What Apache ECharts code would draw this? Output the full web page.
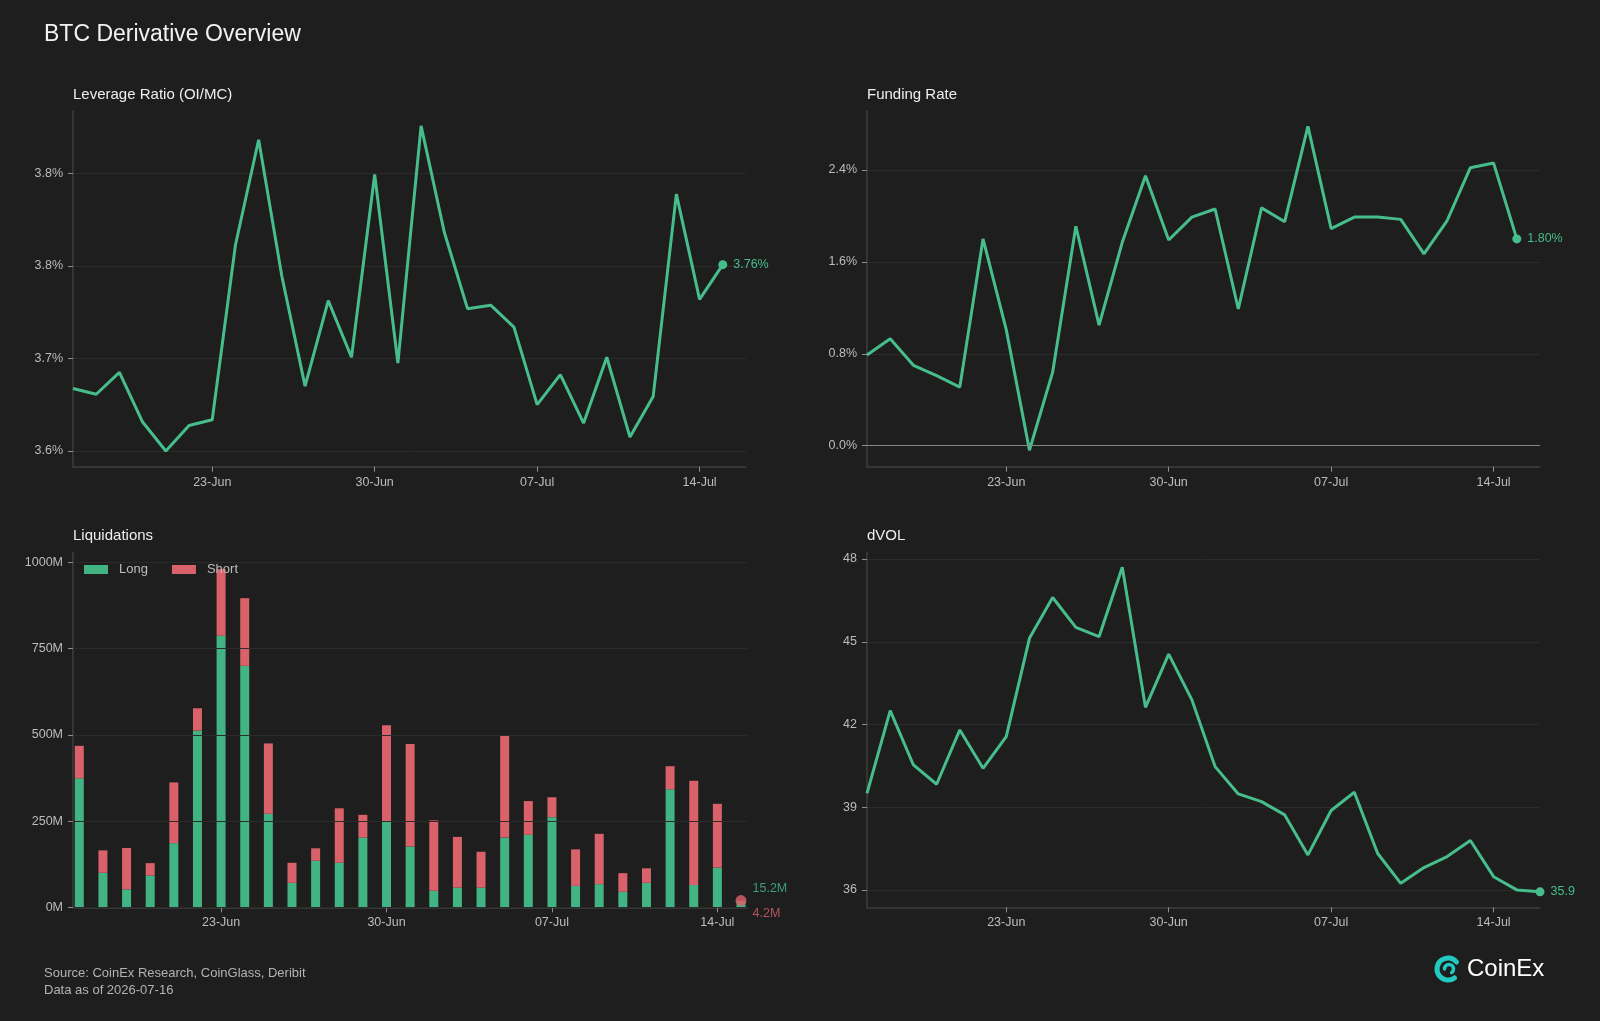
<!DOCTYPE html>
<html>
<head>
<meta charset="utf-8">
<title>BTC Derivative Overview</title>
<script src="https://cdn.jsdelivr.net/npm/echarts@6/dist/echarts.min.js"></script>
<style>
  html, body { margin: 0; padding: 0; background: #1e1e1e; }
  #main { width: 1600px; height: 1021px; }
</style>
</head>
<body>
<div id="main"></div>
<script>
// daily categories, 17-Jun .. 16-Jul
const dates = ['17-Jun', '18-Jun', '19-Jun', '20-Jun', '21-Jun', '22-Jun', '23-Jun', '24-Jun', '25-Jun', '26-Jun',
  '27-Jun', '28-Jun', '29-Jun', '30-Jun', '01-Jul', '02-Jul', '03-Jul', '04-Jul', '05-Jul', '06-Jul',
  '07-Jul', '08-Jul', '09-Jul', '10-Jul', '11-Jul', '12-Jul', '13-Jul', '14-Jul', '15-Jul', '16-Jul'];
const tickDays = ['23-Jun', '30-Jun', '07-Jul', '14-Jul'];

// Leverage ratio (OI/MC), %
const leverage = [3.654, 3.649, 3.668, 3.625, 3.600, 3.622, 3.627, 3.778, 3.869, 3.751,
  3.656, 3.730, 3.681, 3.839, 3.676, 3.881, 3.789, 3.723, 3.726, 3.707,
  3.640, 3.666, 3.624, 3.681, 3.612, 3.647, 3.822, 3.731, 3.761];

// Funding rate, %
const funding = [0.79, 0.93, 0.70, 0.61, 0.51, 1.80, 1.01, -0.04, 0.64, 1.91,
  1.05, 1.77, 2.35, 1.79, 1.99, 2.06, 1.19, 2.07, 1.95, 2.78,
  1.89, 1.99, 1.99, 1.97, 1.67, 1.96, 2.42, 2.46, 1.80];

// Liquidations, million USD
const liqLong = [374, 100, 52, 92, 186, 512, 787, 700, 271, 71,
  135, 129, 202, 247, 176, 48, 57, 57, 202, 210,
  261, 62, 67, 45, 71, 342, 65, 115, 15.2];
const liqShort = [94, 65, 120, 36, 176, 65, 193, 196, 204, 58,
  36, 158, 66, 281, 297, 204, 147, 104, 296, 98,
  58, 106, 146, 54, 42, 67, 302, 185, 4.2];

// dVOL index
const dvol = [39.50, 42.50, 40.53, 39.83, 41.80, 40.41, 41.56, 45.12, 46.60, 45.52,
  45.18, 47.70, 42.62, 44.55, 42.89, 40.47, 39.48, 39.20, 38.72, 37.27,
  38.88, 39.54, 37.33, 36.24, 36.81, 37.21, 37.79, 36.48, 36.00, 35.93];

const FONT = '"Liberation Sans", Arial, sans-serif';
const GREEN = '#47bd8c';
const BAR_GREEN = '#42b383';
const RED = '#d9616a';
const AXIS = '#3e3e3e';
const TICK = '#8f8f8f';
const SPLIT = '#2b2b2b';
const LABEL = '#bcbcbc';

function isTickDay(i) {
  return tickDays.indexOf(dates[i]) >= 0;
}

// category x axis with the weekly labels
function dateAxis(gridIndex, data, showLine) {
  return {
    type: 'category', gridIndex: gridIndex, data: data, boundaryGap: false,
    axisLine: { show: showLine, onZero: false, lineStyle: { color: AXIS, width: 1.5 } },
    axisTick: { show: true, interval: isTickDay, length: 5, lineStyle: { color: TICK } },
    axisLabel: { interval: isTickDay, color: LABEL, fontSize: 12.5, fontFamily: FONT, margin: 9 },
    splitLine: { show: false }
  };
}

// plain frame axis: line only, carries the real data range
function frameAxis(gridIndex, min, max) {
  return {
    type: 'value', gridIndex: gridIndex, min: min, max: max,
    axisLine: { show: true, onZero: false, lineStyle: { color: AXIS, width: 1.5 } },
    axisTick: { show: false }, axisLabel: { show: false }, splitLine: { show: false }
  };
}

// axis carrying tick labels and grid lines
function tickAxis(gridIndex, min, max, interval, fmt, z) {
  return {
    type: 'value', gridIndex: gridIndex, min: min, max: max, interval: interval, z: z || 0,
    axisLine: { show: false },
    axisTick: { show: true, length: 5, lineStyle: { color: TICK } },
    axisLabel: { color: LABEL, fontSize: 12.5, fontFamily: FONT, margin: 10, formatter: fmt },
    splitLine: { show: true, lineStyle: { color: SPLIT, width: 1 } }
  };
}

function hiddenAxis(gridIndex) {
  return { type: 'value', gridIndex: gridIndex, min: 0, max: 1, show: false };
}

// mark the latest point with a dot and a value label
function withEndLabel(arr, fmt) {
  return arr.map(function (v, i) {
    if (i < arr.length - 1) return v;
    return {
      value: v, symbol: 'circle', symbolSize: 9,
      label: { show: true, position: 'right', distance: 6, color: GREEN, fontSize: 12.5, fontFamily: FONT, formatter: fmt(v) }
    };
  });
}

function lineSeries(name, idx, data, extra) {
  return Object.assign({
    name: name, type: 'line', xAxisIndex: idx, yAxisIndex: idx, data: data,
    symbol: 'none', showAllSymbol: true, z: 3,
    itemStyle: { color: GREEN },
    lineStyle: { color: GREEN, width: 3 }
  }, extra || {});
}

const myChart = echarts.init(document.getElementById('main'), null, { renderer: 'canvas' });

const subTitle = { color: '#eeeeee', fontSize: 15, fontWeight: 'normal', fontFamily: FONT };
const footText = { color: '#b3b3b3', fontSize: 13, fontWeight: 'normal', fontFamily: FONT };
const lastLong = liqLong[liqLong.length - 1];
const lastShort = liqShort[liqShort.length - 1];

var option = {
  backgroundColor: '#1e1e1e',
  animation: false,
  textStyle: { fontFamily: FONT },
  title: [
    { text: 'BTC Derivative Overview', left: 44, top: 23, padding: 0,
      textStyle: { color: '#f2f2f2', fontSize: 23, fontWeight: 'normal', fontFamily: FONT } },
    { text: 'Leverage Ratio (OI/MC)', left: 73, top: 87, padding: 0, textStyle: subTitle },
    { text: 'Funding Rate', left: 867, top: 87, padding: 0, textStyle: subTitle },
    { text: 'Liquidations', left: 73, top: 528, padding: 0, textStyle: subTitle },
    { text: 'dVOL', left: 867, top: 528, padding: 0, textStyle: subTitle },
    { text: 'Source: CoinEx Research, CoinGlass, Deribit', left: 44, top: 967, padding: 0, textStyle: footText },
    { text: 'Data as of 2026-07-16', left: 44, top: 984, padding: 0, textStyle: footText }
  ],
  legend: {
    data: ['Long', 'Short'], left: 84, top: 563, padding: 0,
    icon: 'rect', itemWidth: 24, itemHeight: 9, itemGap: 24,
    textStyle: { color: LABEL, fontSize: 13, fontFamily: FONT, padding: [0, 0, 0, 6] }
  },
  grid: [
    // top left
    { left: 73, top: 110.7, width: 673, height: 356, containLabel: false, outerBoundsMode: 'none' },
    { left: 73, top: 173.3, width: 673, height: 277.7, containLabel: false, outerBoundsMode: 'none' },
    // top right
    { left: 867, top: 110.7, width: 673, height: 356, containLabel: false, outerBoundsMode: 'none' },
    { left: 867, top: 170, width: 673, height: 275.7, containLabel: false, outerBoundsMode: 'none' },
    // bottom left: frame, ticks, bars
    { left: 73, top: 552.3, width: 674, height: 355, containLabel: false, outerBoundsMode: 'none' },
    { left: 73, top: 562.3, width: 674, height: 345, containLabel: false, outerBoundsMode: 'none' },
    { left: 79.3, top: 562.3, width: 661.7, height: 345, containLabel: false, outerBoundsMode: 'none' },
    // bottom right
    { left: 867, top: 552.3, width: 673, height: 355, containLabel: false, outerBoundsMode: 'none' },
    { left: 867, top: 559, width: 673, height: 331, containLabel: false, outerBoundsMode: 'none' }
  ],
  xAxis: [
    dateAxis(0, dates, true),
    hiddenAxis(1),
    dateAxis(2, dates, true),
    hiddenAxis(3),
    { type: 'value', gridIndex: 4, min: 0, max: 1,
      axisLine: { show: true, onZero: false, lineStyle: { color: AXIS, width: 1.5 } },
      axisTick: { show: false }, axisLabel: { show: false }, splitLine: { show: false } },
    hiddenAxis(5),
    dateAxis(6, dates.slice(0, 29), false),
    dateAxis(7, dates, true),
    hiddenAxis(8)
  ],
  yAxis: [
    frameAxis(0, 3.5864, 3.8941),
    tickAxis(1, 3.6, 3.84, 0.08, function (v) { return v.toFixed(1) + '%'; }),
    frameAxis(2, -0.183, 2.916),
    tickAxis(3, 0, 2.4, 0.8, function (v) { return v.toFixed(1) + '%'; }),
    frameAxis(4, 0, 1029),
    tickAxis(5, 0, 1000, 250, function (v) { return Math.round(v) + 'M'; }, 3),
    { type: 'value', gridIndex: 6, min: 0, max: 1000, show: false },
    frameAxis(7, 35.37, 48.24),
    tickAxis(8, 36, 48, 3, function (v) { return String(Math.round(v)); })
  ],
  series: [
    lineSeries('Leverage Ratio', 0, withEndLabel(leverage, function (v) { return v.toFixed(2) + '%'; })),
    lineSeries('Funding Rate', 2, withEndLabel(funding, function (v) { return v.toFixed(2) + '%'; }), {
      markLine: {
        silent: true, symbol: 'none', label: { show: false },
        lineStyle: { color: '#858585', width: 1.2, type: 'solid' },
        data: [{ yAxis: 0 }]
      }
    }),
    {
      name: 'Long', type: 'bar', xAxisIndex: 6, yAxisIndex: 6, stack: 'liq',
      data: liqLong, barWidth: 9, clip: false, z: 2,
      itemStyle: { color: BAR_GREEN }
    },
    {
      name: 'Short', type: 'bar', xAxisIndex: 6, yAxisIndex: 6, stack: 'liq',
      data: liqShort, barWidth: 9, clip: false, z: 2,
      itemStyle: { color: RED }
    },
    {
      name: 'Latest', type: 'scatter', xAxisIndex: 6, yAxisIndex: 6, z: 5,
      data: [[liqLong.length - 1, lastLong + lastShort]],
      symbolSize: 11, itemStyle: { color: RED },
      label: {
        show: true, position: 'right', distance: 6,
        formatter: '{l|' + lastLong.toFixed(1) + 'M}\n{s|' + lastShort.toFixed(1) + 'M}',
        rich: {
          l: { color: GREEN, fontSize: 12.5, fontFamily: FONT, lineHeight: 25 },
          s: { color: RED, fontSize: 12.5, fontFamily: FONT, lineHeight: 25 }
        }
      }
    },
    lineSeries('dVOL', 7, withEndLabel(dvol, function (v) { return v.toFixed(1); }))
  ],
  graphic: [
    { type: 'arc', shape: { cx: 1448, cy: 969, r: 11, startAngle: Math.PI * 0.3, endAngle: Math.PI * 1.78 },
      style: { stroke: '#22c9c0', lineWidth: 5, fill: null, lineCap: 'round' } },
    { type: 'arc', shape: { cx: 1449, cy: 969, r: 4.5, startAngle: Math.PI * 1.0, endAngle: Math.PI * 2.3 },
      style: { stroke: '#22c9c0', lineWidth: 3.5, fill: null, lineCap: 'round' } },
    { type: 'text', x: 1467, y: 969,
      style: { text: 'CoinEx', fill: '#ffffff', fontSize: 24, fontFamily: FONT, verticalAlign: 'middle' } }
  ]
};

myChart.setOption(option);
</script>
</body>
</html>
